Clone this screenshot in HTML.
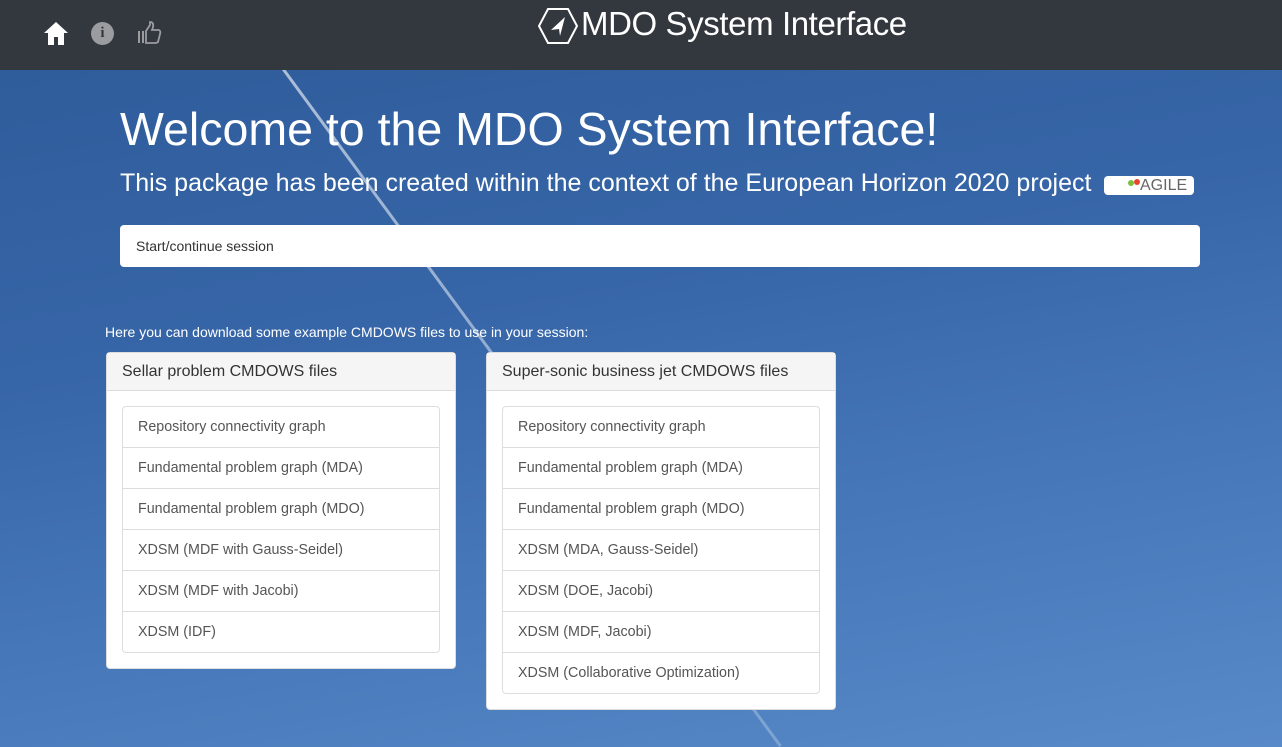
<!DOCTYPE html>
<html><head><meta charset="utf-8"><style>
*{box-sizing:border-box;margin:0;padding:0}
body{width:1282px;height:747px;overflow:hidden;font-family:"Liberation Sans",sans-serif;position:relative;background:linear-gradient(170deg,#2d5a98 0%,#3766a8 40%,#4a7cbd 75%,#5889c8 100%)}
.top{position:absolute;left:0;top:0;width:1282px;height:70px;background:#33373e}
.title{position:absolute;left:581px;top:5px;color:#fff;font-size:33px;letter-spacing:-0.4px;white-space:nowrap}
.line{position:absolute;left:282px;top:70px;width:3px;height:840px;background:linear-gradient(rgba(255,255,255,.6),rgba(255,255,255,.25));transform-origin:0 0;transform:rotate(-36.3deg)}
h1{position:absolute;left:120px;top:102px;color:#fff;font-weight:normal;font-size:46.5px;white-space:nowrap}
.sub{position:absolute;left:120px;top:169px;color:#fff;font-size:25px;white-space:nowrap}
.agile{position:absolute;left:1104px;top:176px;width:90px;height:19px;background:#fff;border-radius:4px;color:#666;font-size:16px;padding-left:36px;line-height:19px}
.sess{position:absolute;left:120px;top:225px;width:1080px;height:42px;background:#fff;border-radius:4px;font-size:14px;color:#333;padding:13px 16px}
.here{position:absolute;left:105px;top:324px;color:#fff;font-size:14px}
.panel{position:absolute;top:352px;width:350px;background:#fff;border:1px solid #ddd;border-radius:4px}
.ph{background:#f5f5f5;height:38px;border-bottom:1px solid #ddd;font-size:16px;color:#333;padding:10px 15px}
.list{margin:15px;border:1px solid #ddd;border-radius:4px}
.list div{height:41px;border-top:1px solid #ddd;font-size:14.3px;color:#555;padding:12px 15px}
.list div:first-child{border-top:none;height:40px}
</style></head><body>
<div class="line"></div>
<div class="top">
<svg style="position:absolute;left:43px;top:21px" width="26" height="24" viewBox="0 0 26 24"><path d="M13 1 L25 12 H21 V24 H15 V16 H11 V24 H5 V12 H1Z" fill="#fff"/></svg>
<div style="position:absolute;left:91px;top:22px;width:23px;height:23px;border-radius:50%;background:#9a9ca0;color:#33373e;font:bold 15px 'Liberation Serif',serif;text-align:center;line-height:23px">i</div>
<svg style="position:absolute;left:137px;top:21px" width="26" height="24" viewBox="0 0 26 24"><rect x="1" y="10" width="2" height="12" fill="#9a9ca0"/><rect x="5" y="10" width="2" height="12" fill="#9a9ca0"/><path d="M9 10 L13 4 V1 Q17 1 16 6 L15 9 H22 Q24 10 23 13 L21 21 Q20 22 18 22 H9Z" fill="none" stroke="#9a9ca0" stroke-width="1.8"/></svg>
<svg style="position:absolute;left:538px;top:8px" width="40" height="36" viewBox="0 0 40 36"><polygon points="10,1 30,1 39,18 30,35 10,35 1,18" fill="none" stroke="#fff" stroke-width="2"/><polygon points="27,9 13,22 21,21 22,28" fill="#fff"/></svg>
<div class="title">MDO System Interface</div>
</div>
<h1>Welcome to the MDO System Interface!</h1>
<div class="sub">This package has been created within the context of the European Horizon 2020 project</div>
<div class="agile"><span style="position:absolute;left:24px;top:4px;width:6px;height:6px;background:#7bbf3a;border-radius:50%"></span><span style="position:absolute;left:30px;top:3px;width:6px;height:6px;background:#e8452c;border-radius:50%"></span>AGILE</div>
<div class="sess">Start/continue session</div>
<div class="here">Here you can download some example CMDOWS files to use in your session:</div>
<div class="panel" style="left:106px;height:317px"><div class="ph">Sellar problem CMDOWS files</div><div class="list">
<div>Repository connectivity graph</div><div>Fundamental problem graph (MDA)</div><div>Fundamental problem graph (MDO)</div><div>XDSM (MDF with Gauss-Seidel)</div><div>XDSM (MDF with Jacobi)</div><div>XDSM (IDF)</div></div></div>
<div class="panel" style="left:486px;height:358px"><div class="ph">Super-sonic business jet CMDOWS files</div><div class="list">
<div>Repository connectivity graph</div><div>Fundamental problem graph (MDA)</div><div>Fundamental problem graph (MDO)</div><div>XDSM (MDA, Gauss-Seidel)</div><div>XDSM (DOE, Jacobi)</div><div>XDSM (MDF, Jacobi)</div><div>XDSM (Collaborative Optimization)</div></div></div>
</body></html>
